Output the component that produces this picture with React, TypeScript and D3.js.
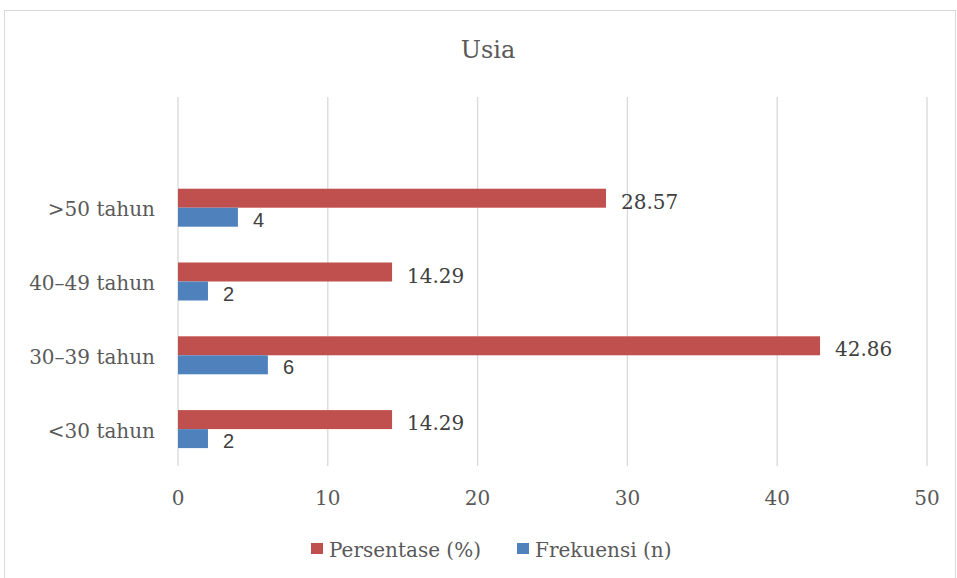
import React, { useEffect, useRef } from "react";
import * as d3 from "d3";

// chart data
const categories = ["<30 tahun", "30–39 tahun", "40–49 tahun", ">50 tahun", ""];
const frekuensi = [2, 6, 2, 4];
const persentase = [14.29, 42.86, 14.29, 28.57];
const xTicks = [0, 10, 20, 30, 40, 50];
const seriesNames = ["Persentase (%)", "Frekuensi (n)"];

const W = 957;
const H = 578;

export default function App() {
  const ref = useRef<SVGSVGElement>(null);

  useEffect(() => {
    const svg = d3.select(ref.current);
    svg.selectAll("*").remove();

    const serif = "'DejaVu Serif', serif";
    const sans = "'Liberation Sans', Roboto, sans-serif";

    // outer frame
    svg.append("rect")
      .attr("x", 4.5).attr("y", 10.5)
      .attr("width", 951).attr("height", 570)
      .attr("fill", "#fff")
      .attr("stroke", "#d9d9d9");

    svg.append("text")
      .attr("x", 488).attr("y", 58)
      .attr("text-anchor", "middle")
      .attr("font-family", serif)
      .attr("font-size", 24)
      .attr("fill", "#595959")
      .text("Usia");

    const x = d3.scaleLinear().domain([0, 50]).range([178, 927]);
    const y = d3.scaleBand<string>()
      .domain(categories.slice().reverse())
      .range([97, 466]);

    // gridlines
    svg.append("g")
      .selectAll("line")
      .data(xTicks)
      .join("line")
      .attr("x1", d => x(d)).attr("x2", d => x(d))
      .attr("y1", 97).attr("y2", 466)
      .attr("stroke", "#d9d9d9")
      .attr("stroke-width", 1.3);

    // tick labels
    svg.append("g")
      .selectAll("text")
      .data(xTicks)
      .join("text")
      .attr("x", d => x(d))
      .attr("y", 505)
      .attr("text-anchor", "middle")
      .attr("font-family", serif)
      .attr("font-size", 20)
      .attr("fill", "#595959")
      .text(d => d);

    // category labels
    svg.append("g")
      .selectAll("text")
      .data(categories.filter(c => c !== ""))
      .join("text")
      .attr("x", 155)
      .attr("y", d => (y(d) as number) + y.bandwidth() / 2 + 8.5)
      .attr("text-anchor", "end")
      .attr("font-family", serif)
      .attr("font-size", 20)
      .attr("fill", "#595959")
      .text(d => d);

    const barH = 19;
    const rows = categories.slice(0, 4).map((c, i) => ({ c, f: frekuensi[i], p: persentase[i] }));
    const g = svg.append("g");
    const mid = (c: string) => (y(c) as number) + y.bandwidth() / 2;

    // red bars on top, blue below
    g.selectAll("rect.p")
      .data(rows)
      .join("rect")
      .attr("class", "p")
      .attr("x", x(0))
      .attr("y", d => mid(d.c) - barH)
      .attr("width", d => x(d.p) - x(0))
      .attr("height", barH)
      .attr("fill", "#c0504d");

    g.selectAll("rect.f")
      .data(rows)
      .join("rect")
      .attr("class", "f")
      .attr("x", x(0))
      .attr("y", d => mid(d.c))
      .attr("width", d => x(d.f) - x(0))
      .attr("height", barH)
      .attr("fill", "#4f81bd");

    g.selectAll("text.p")
      .data(rows)
      .join("text")
      .attr("class", "p")
      .attr("x", d => x(d.p) + 15)
      .attr("y", d => mid(d.c) + 1)
      .attr("font-family", serif)
      .attr("font-size", 20)
      .attr("fill", "#404040")
      .text(d => d.p.toFixed(2));

    g.selectAll("text.f")
      .data(rows)
      .join("text")
      .attr("class", "f")
      .attr("x", d => x(d.f) + 15)
      .attr("y", d => mid(d.c) + 19)
      .attr("font-family", sans)
      .attr("font-size", 20)
      .attr("fill", "#404040")
      .text(d => d.f);

    // legend
    const legend = svg.append("g");
    const lx = [311, 517];
    const colors = ["#c0504d", "#4f81bd"];
    seriesNames.forEach((name, i) => {
      legend.append("rect")
        .attr("x", lx[i]).attr("y", 543)
        .attr("width", 12).attr("height", 11)
        .attr("fill", colors[i]);
      legend.append("text")
        .attr("x", lx[i] + 18).attr("y", 557)
        .attr("font-family", serif)
        .attr("font-size", 20)
        .attr("fill", "#595959")
        .text(name);
    });
  }, []);

  return (
    <svg ref={ref} width={W} height={H} style={{ position: "absolute", left: 0, top: 0 }} />
  );
}
